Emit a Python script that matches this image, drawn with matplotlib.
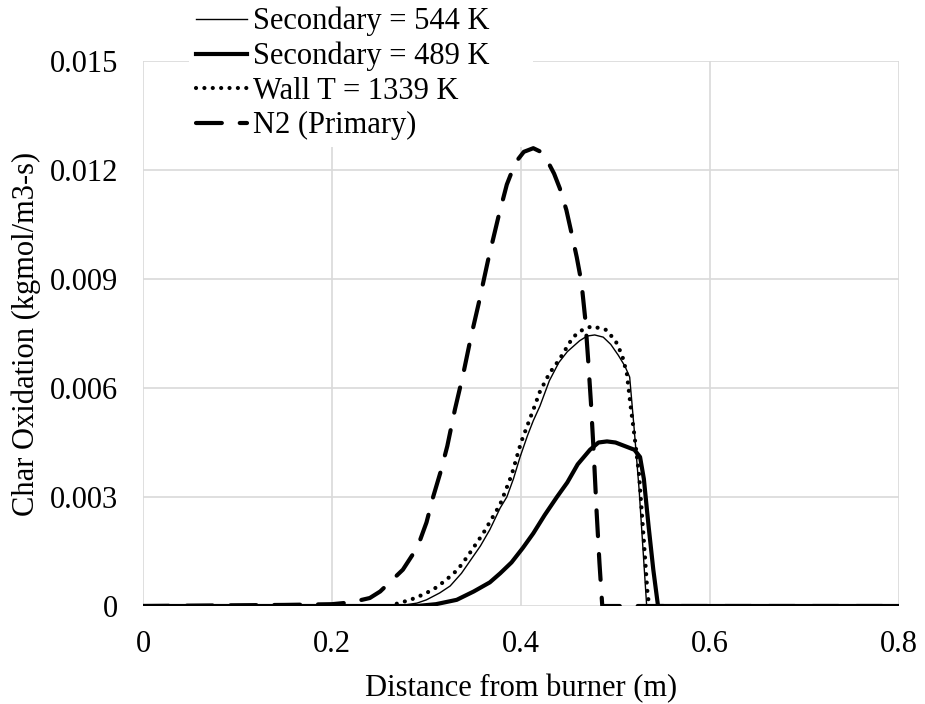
import numpy as np
import matplotlib
matplotlib.use("Agg")
import matplotlib.pyplot as plt

plt.rcParams['font.family'] = ['Liberation Serif', 'DejaVu Serif']

# values
x_544 = [0.0, 0.27, 0.29, 0.30, 0.314, 0.325, 0.337, 0.349, 0.357, 0.367, 0.378, 0.385,
         0.392, 0.399, 0.407, 0.413, 0.420, 0.430, 0.440, 0.449, 0.462, 0.470, 0.478,
         0.487, 0.495, 0.503, 0.510, 0.515, 0.520, 0.525, 0.530, 0.533, 0.8]
y_544 = [0.0, 0.0, 0.00008, 0.00017, 0.00036, 0.00055, 0.0009, 0.00135, 0.00165, 0.0021,
         0.0027, 0.0030, 0.0035, 0.0041, 0.0047, 0.0051, 0.0055, 0.0062, 0.0067, 0.0070,
         0.0073, 0.00743, 0.00746, 0.0074, 0.0072, 0.0069, 0.0066, 0.0063, 0.0048,
         0.0032, 0.0012, 0.0, 0.0]

x_489 = [0.0, 0.29, 0.31, 0.332, 0.35, 0.367, 0.378, 0.39, 0.402, 0.413, 0.425, 0.438,
         0.449, 0.46, 0.473, 0.482, 0.491, 0.50, 0.51, 0.52, 0.526, 0.53, 0.535, 0.54,
         0.545, 0.8]
y_489 = [0.0, 0.0, 0.00005, 0.00017, 0.0004, 0.00065, 0.0009, 0.0012, 0.0016, 0.002,
         0.0025, 0.003, 0.0034, 0.0039, 0.0043, 0.0045, 0.00453, 0.0045, 0.0044, 0.0043,
         0.0041, 0.0035, 0.0022, 0.0010, 0.0, 0.0]

x_wall = [0.26, 0.283, 0.295, 0.307, 0.32, 0.333, 0.343, 0.36, 0.378, 0.39, 0.40, 0.413,
          0.42, 0.43, 0.441, 0.455, 0.465, 0.475, 0.49, 0.50, 0.507, 0.512, 0.516, 0.52,
          0.525, 0.53, 0.534, 0.536]
y_wall = [0.0, 0.00017, 0.0003, 0.00045, 0.0007, 0.001, 0.00135, 0.002, 0.0028, 0.0036,
          0.0045, 0.0054, 0.0059, 0.0064, 0.0068, 0.0074, 0.0076, 0.0077, 0.0076, 0.0073,
          0.0069, 0.0064, 0.0055, 0.0047, 0.0036, 0.0018, 0.0003, 0.0]

x_n2 = [0.0, 0.15, 0.2, 0.22, 0.24, 0.251, 0.263, 0.275, 0.285, 0.293, 0.30, 0.307,
        0.315, 0.322, 0.33, 0.339, 0.347, 0.355, 0.365, 0.376, 0.385, 0.394, 0.403,
        0.413, 0.421, 0.429, 0.435, 0.441, 0.448, 0.454, 0.459, 0.464, 0.468, 0.471,
        0.474, 0.477, 0.480, 0.483, 0.486, 0.8]
y_n2 = [0.0, 0.00003, 0.00005, 0.0001, 0.00022, 0.0004, 0.0007, 0.001, 0.0014, 0.0018,
        0.0023, 0.003, 0.0037, 0.0044, 0.0054, 0.0064, 0.0074, 0.0083, 0.0095, 0.0107,
        0.0116, 0.0122, 0.0125, 0.0126, 0.0125, 0.0122, 0.0119, 0.0115, 0.0109, 0.0102,
        0.0096, 0.0089, 0.0079, 0.0068, 0.0056, 0.0042, 0.0026, 0.0012, 0.0, 0.0]

labels = ['Secondary = 544 K', 'Secondary = 489 K', 'Wall T = 1339 K', 'N2 (Primary)']
xticks = [0, 0.2, 0.4, 0.6, 0.8]
yticks = [0, 0.003, 0.006, 0.009, 0.012, 0.015]
xtick_labels = ['0', '0.2', '0.4', '0.6', '0.8']
ytick_labels = ['0', '0.003', '0.006', '0.009', '0.012', '0.015']

fs = 22

fig = plt.figure(figsize=(9.25, 7.04), dpi=100)
ax = fig.add_axes([143/925, 1 - 606/704, (899-143)/925, (606-61)/704])

ax.plot(x_544, y_544, color='black', lw=1.0, label=labels[0], zorder=4)
ax.plot(x_489, y_489, color='black', lw=3.0, label=labels[1], zorder=3)
ax.plot(x_wall, y_wall, color='black', lw=3.0, linestyle=(0, (0.01, 2.0)),
        dash_capstyle='round', label=labels[2], zorder=5)
ax.plot(x_n2, y_n2, color='black', lw=3.0, linestyle=(0, (6.2, 4.3)),
        dash_capstyle='round', label=labels[3], zorder=6)

ax.set_xlim(0, 0.8)
ax.set_ylim(0, 0.015)
ax.set_xticks(xticks)
ax.set_xticklabels(xtick_labels)
ax.set_yticks(yticks)
ax.set_yticklabels(ytick_labels)
ax.tick_params(axis='both', length=0, labelsize=fs)
ax.tick_params(axis='y', pad=18)
ax.tick_params(axis='x', pad=17)
ax.grid(True, color='#d9d9d9', lw=1.2, zorder=0)
ax.set_axisbelow(True)
for s in ax.spines.values():
    s.set_visible(False)

ax.set_xlabel('Distance from burner (m)', fontsize=fs, labelpad=11)
ax.set_ylabel('Char Oxidation (kgmol/m3-s)', fontsize=fs, labelpad=6)

leg = fig.legend(loc='upper left', bbox_to_anchor=(189/925, 1.0, (533-189)/925, 0.0),
                 mode='expand', fontsize=fs, frameon=True, facecolor='white',
                 edgecolor='none', framealpha=1, handlelength=1.67, handletextpad=0.2,
                 labelspacing=0.18, borderpad=0.22, borderaxespad=0)
leg.set_zorder(10)

fig.savefig('out.png', dpi=100)
